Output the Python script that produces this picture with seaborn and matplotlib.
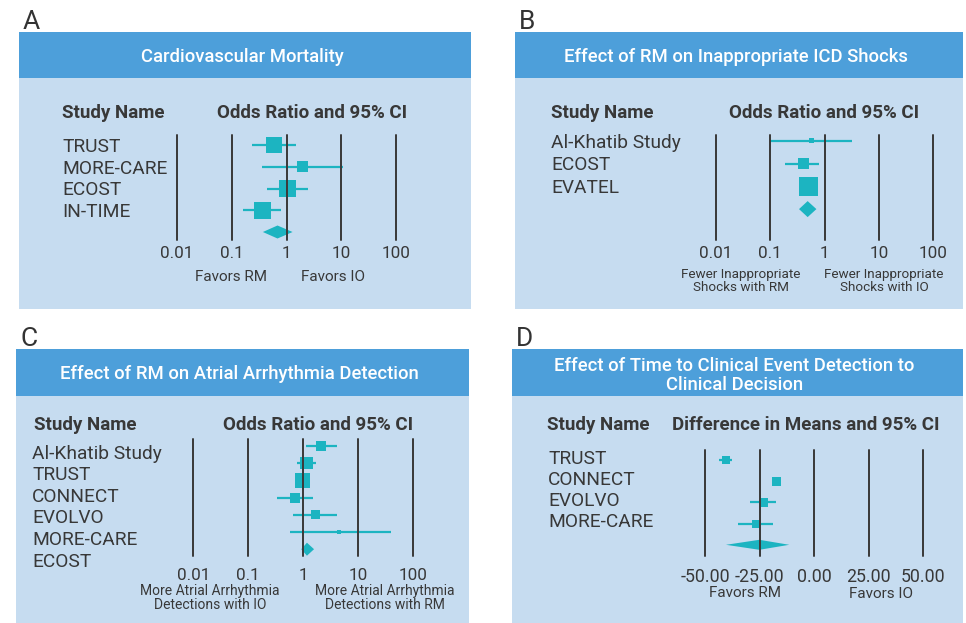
import matplotlib
matplotlib.use("Agg")
import matplotlib.pyplot as plt
from matplotlib.patches import Rectangle
from matplotlib.ticker import NullLocator
import numpy as np
import seaborn as sns

sns.set_theme(style="white")
plt.rcParams['font.family'] = ['Roboto', 'DejaVu Sans']

# ---- data -------------------------------------------------------------
# A: cardiovascular mortality (odds ratio, 95% CI)
a_studies = ["TRUST", "MORE-CARE", "ECOST", "IN-TIME"]
a_or = [0.59, 1.93, 1.03, 0.36]
a_lo = [0.23, 0.36, 0.44, 0.16]
a_hi = [1.48, 10.6, 2.49, 0.81]
a_weight = [16, 11, 17, 17]
a_pooled = [0.37, 0.685, 1.29]

# B: inappropriate ICD shocks
b_studies = ["Al-Khatib Study", "ECOST", "EVATEL"]
b_or = [0.58, 0.41, 0.50]
b_lo = [0.10, 0.19, 0.42]
b_hi = [3.2, 0.80, 0.60]
b_weight = [5, 11, 19]
b_pooled = [0.34, 0.49, 0.71]

# C: atrial arrhythmia detection
c_studies = ["Al-Khatib Study", "TRUST", "CONNECT", "EVOLVO", "MORE-CARE", "ECOST"]
c_or = [2.1, 1.15, 0.97, 0.70, 1.68, 4.5]
c_lo = [1.12, 0.79, 0.85, 0.34, 0.66, 0.57]
c_hi = [4.2, 1.75, 1.12, 1.52, 4.2, 40]
c_weight = [10, 12.5, 15, 10, 9, 3.5]
c_pooled = [0.93, 1.18, 1.59]

# D: time to clinical decision (difference in means)
d_studies = ["TRUST", "CONNECT", "EVOLVO", "MORE-CARE"]
d_diff = [-40.5, -17.4, -23.1, -26.7]
d_lo = [-43.5, -18.5, -29.4, -34.8]
d_hi = [-37.5, -16.3, -17.6, -19.0]
d_weight = [8, 9, 9, 8]
d_pooled = [-40.4, -25.1, -11.4]

or_ticks = [0.01, 0.1, 1, 10, 100]
or_ticklabels = ["0.01", "0.1", "1", "10", "100"]
md_ticks = [-50, -25, 0, 25, 50]
md_ticklabels = ["-50.00", "-25.00", "0.00", "25.00", "50.00"]

# ---- style ------------------------------------------------------------
W, H = 966, 623
HEADER = "#4d9fda"
BODY = "#c6dcf0"
TEAL = "#1cb4c1"
GRID = "#3c3c3c"
TXT = "#383838"

fig = plt.figure(figsize=(W / 100, H / 100), dpi=100)
fig.patch.set_facecolor("white")

bg = fig.add_axes([0, 0, 1, 1])
bg.set_xlim(0, W)
bg.set_ylim(H, 0)
bg.axis("off")


def px_rect(x0, y0, x1, y1):
    return [x0 / W, 1 - y1 / H, (x1 - x0) / W, (y1 - y0) / H]


def ctext(x, y, s, size, **kw):
    # y is the visual middle of capital letters
    bg.text(x, y + 0.711 * size * 100 / 72 / 2, s, fontsize=size,
            va="baseline", **kw)


def panel(letter, box, header_h, title, title_y):
    x0, y0, x1, y1 = box
    bg.add_patch(Rectangle((x0, y0), x1 - x0, y1 - y0, color=BODY, lw=0))
    bg.add_patch(Rectangle((x0, y0), x1 - x0, header_h, color=HEADER, lw=0))
    bg.text(x0 + 4, y0 - 3, letter, fontsize=19, color="#333333",
            va="baseline")
    for t, ty in zip(title, title_y):
        ctext((x0 + x1) / 2 - 3, ty, t, 13.3, color="white", ha="center",
              fontweight="medium")


def forest(rect, log, ticks, labels, first, step, est, lo, hi, weight,
           pooled, dia_h, pad, lw=1.6, tick_size=12.3):
    x0, y0, x1, y1 = rect
    ax = fig.add_axes(px_rect(x0, y0, x1, y1))
    ax.set_facecolor("none")
    n = len(est)
    rows = np.arange(n)
    ax.hlines(rows, lo, hi, color=TEAL, lw=lw)
    sizes = {w: (w * 0.72) ** 2 for w in weight}
    sns.scatterplot(x=est, y=rows, size=weight, sizes=sizes, marker="s",
                    color=TEAL, linewidth=0, legend=False, ax=ax)
    lo_p, mid_p, hi_p = pooled
    hh = dia_h / 2 / step
    ax.fill([lo_p, mid_p, hi_p, mid_p], [n, n - hh, n, n + hh],
            color=TEAL, lw=0)
    if log:
        ax.set_xscale("log")
        ax.xaxis.set_minor_locator(NullLocator())
    ax.set_xlim(ticks[0], ticks[-1])
    ax.set_ylim((y1 - first) / step, -(first - y0) / step)
    ax.set_xticks(ticks)
    ax.set_xticklabels(labels, fontsize=tick_size, color=TXT)
    ax.tick_params(axis="x", length=0, pad=pad)
    ax.set_yticks([])
    ax.set_xlabel("")
    ax.set_ylabel("")
    for sp in ax.spines.values():
        sp.set_visible(False)
    ax.set_axisbelow(False)
    ax.grid(True, axis="x", color=GRID, lw=1.44)
    ax.grid(False, axis="y")
    # outer gridlines sit on the axes edge; keep them whole
    for gl in ax.get_xgridlines():
        gl.set_clip_on(False)
    return ax


def study_labels(x, first, step, names):
    for i, s in enumerate(names):
        ctext(x, first + i * step, s, 13.8, color=TXT)


# ---- panel A ----------------------------------------------------------
panel("A", (19, 32, 471, 309), 46, ["Cardiovascular Mortality"], [55])
ctext(62, 111, "Study Name", 13.5, color=TXT, fontweight="bold")
ctext(312, 111, "Odds Ratio and 95% CI", 13.5, color=TXT, fontweight="bold",
      ha="center")
study_labels(62, 145, 21.75, a_studies)
forest((177, 135, 396, 240), True, or_ticks, or_ticklabels, 145, 21.75,
       a_or, a_lo, a_hi, a_weight, a_pooled, 13, 4.6)
ctext(231, 276, "Favors RM", 11, color=TXT, ha="center")
ctext(333, 276, "Favors IO", 11, color=TXT, ha="center")

# ---- panel B ----------------------------------------------------------
panel("B", (515, 32, 963, 309), 46,
      ["Effect of RM on Inappropriate ICD Shocks"], [55])
ctext(551, 111, "Study Name", 13.5, color=TXT, fontweight="bold")
ctext(824, 111, "Odds Ratio and 95% CI", 13.5, color=TXT, fontweight="bold",
      ha="center")
study_labels(551, 141, 22.5, b_studies)
forest((715.7, 135, 933.3, 240), True, or_ticks, or_ticklabels, 140.7, 22.8,
       b_or, b_lo, b_hi, b_weight, b_pooled, 16, 4.6)
bg.text(741, 281, "Fewer Inappropriate\nShocks with RM", fontsize=9.7,
        color=TXT, ha="center", va="center", linespacing=0.95)
bg.text(884, 281, "Fewer Inappropriate\nShocks with IO", fontsize=9.7,
        color=TXT, ha="center", va="center", linespacing=0.95)

# ---- panel C ----------------------------------------------------------
panel("C", (16, 349, 469, 623), 47,
      ["Effect of RM on Atrial Arrhythmia Detection"], [372])
ctext(34, 423, "Study Name", 13.5, color=TXT, fontweight="bold")
ctext(318, 423, "Odds Ratio and 95% CI", 13.5, color=TXT, fontweight="bold",
      ha="center")
study_labels(32, 451.7, 21.6, c_studies)
forest((193.3, 439, 412.7, 555.7), True, or_ticks, or_ticklabels, 446, 17.2,
       c_or, c_lo, c_hi, c_weight, c_pooled, 13, 9.1)
bg.text(210, 598, "More Atrial Arrhythmia\nDetections with IO", fontsize=10,
        color=TXT, ha="center", va="center", linespacing=0.95)
bg.text(385, 598, "More Atrial Arrhythmia\nDetections with RM", fontsize=10,
        color=TXT, ha="center", va="center", linespacing=0.95)

# ---- panel D ----------------------------------------------------------
panel("D", (512, 349, 963, 623), 47,
      ["Effect of Time to Clinical Event Detection to", "Clinical Decision"],
      [364, 383])
ctext(547, 423, "Study Name", 13.5, color=TXT, fontweight="bold")
ctext(806, 423, "Difference in Means and 95% CI", 13.5, color=TXT,
      fontweight="bold", ha="center")
study_labels(548, 456.7, 21.3, d_studies)
forest((705, 450, 923.3, 555.7), False, md_ticks, md_ticklabels, 460, 21.2,
       d_diff, d_lo, d_hi, d_weight, d_pooled, 10, 8.9, tick_size=12.8)
ctext(745, 592, "Favors RM", 11, color=TXT, ha="center")
ctext(881, 593, "Favors IO", 11, color=TXT, ha="center")

fig.savefig("out.png", dpi=100)
